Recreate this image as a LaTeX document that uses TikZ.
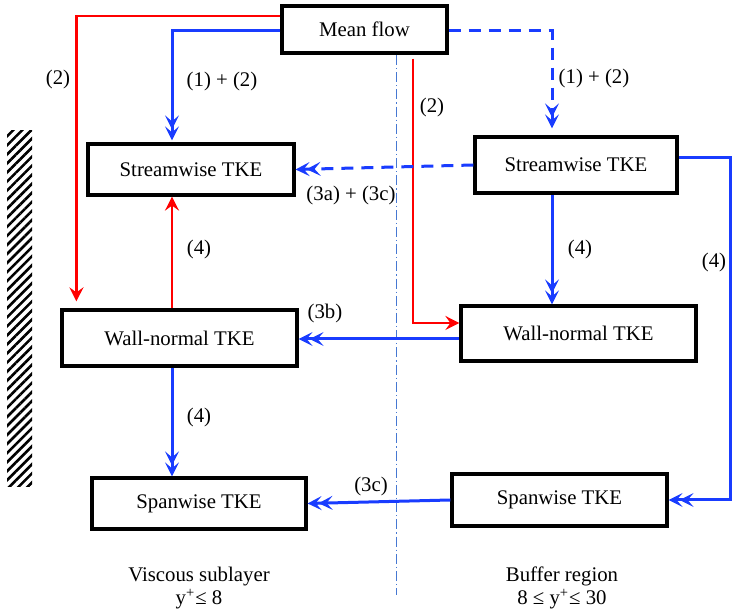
\documentclass[tikz,border=0pt]{standalone}
\usepackage{fontspec}
\setmainfont{Liberation Serif}
\usetikzlibrary{arrows.meta,patterns.meta}

\definecolor{flowblue}{RGB}{25,60,255}
\definecolor{divblue}{RGB}{70,120,210}

\tikzset{
	tke/.style={draw, line width=1.6pt, inner sep=0pt, font=\fontsize{10.4}{12}\selectfont},
	lbl/.style={font=\fontsize{10.4}{12}\selectfont},
	redflow/.style={draw=red, line width=1.3pt, -{Stealth[length=7pt,width=7pt,inset=2.5pt]}},
	blueflow/.style={draw=flowblue, line width=1.5pt, -{Stealth[length=7pt,width=7pt,inset=3pt,sep=-1.5pt]Stealth[length=7pt,width=7pt,inset=3pt]}},
	bluedash/.style={blueflow, dash pattern=on 6pt off 4pt}
}

\begin{document}
\begin{tikzpicture}[x=0.5pt,y=-0.5pt]
	\useasboundingbox (0,0) rectangle (752,614);

	% wall and region divider
	\fill[pattern={Lines[angle=45,distance=3.2pt,line width=1.3pt]}] (7,131) rectangle (32,487);
	\draw[divblue, line width=0.5pt, dash pattern=on 5pt off 1.5pt on 0.6pt off 1.5pt] (396,55) -- (396,595);

	\node[tke, minimum width=82.5pt, minimum height=23.5pt] (mean) at (364.5,29.5) {Mean flow};

	\node[tke, minimum width=103pt, minimum height=25.5pt] (ls) at (191,169.5) {Streamwise TKE};
	\node[tke, minimum width=117.5pt, minimum height=28pt] (lwn) at (179.5,338) {Wall-normal TKE};
	\node[tke, minimum width=107pt, minimum height=25.5pt] (lsp) at (199,503.5) {Spanwise TKE};

	\node[tke, minimum width=101pt, minimum height=28pt] (rs) at (576,165) {Streamwise TKE};
	\node[tke, minimum width=117.5pt, minimum height=27.5pt] (rwn) at (578.5,333.5) {Wall-normal TKE};
	\node[tke, minimum width=107.5pt, minimum height=26pt] (rsp) at (559.5,500) {Spanwise TKE};

	% mean flow production
	\draw[redflow] ([yshift=6.75pt]mean.west) -| ([xshift=8pt,yshift=3.5pt]lwn.north west);
	\draw[blueflow] ([yshift=-0.75pt]mean.west) -| ([xshift=-9.5pt,yshift=1pt]ls.north);
	\draw[bluedash] ([yshift=-0.75pt]mean.east) -| ([xshift=-12pt,yshift=3.5pt]rs.north);
	\draw[redflow] ([xshift=24.25pt,yshift=-2pt]mean.south) |- ([yshift=5.25pt]rwn.west);

	% redistribution
	\draw[bluedash] (rs.west) -- (ls.east);
	\draw[blueflow] ([xshift=-12pt]rs.south) -- ([xshift=-12pt]rs.south |- rwn.north);
	\draw[blueflow] ([yshift=3.5pt]rs.east) -- ++(26pt,0) |- (rsp.east);
	\draw[blueflow] ([yshift=-2.75pt]rwn.west) -- ([yshift=-2.75pt]rwn.west -| lwn.east);
	\draw[redflow] ([xshift=-3.75pt]lwn.north) -- ([xshift=-3.75pt]lwn.north |- ls.south);
	\draw[blueflow] ([xshift=-3.75pt]lwn.south) -- ([xshift=-3.75pt]lwn.south |- lsp.north);
	\draw[blueflow] (rsp.west) -- (lsp.east);

	% labels
	\node[lbl] (l2a) at (58,80) {(2)};
	\node[lbl] (l12a) at (222,82) {(1) + (2)};
	\node[lbl] (l2b) at (432,108) {(2)};
	\node[lbl] (l12b) at (594,79) {(1) + (2)};
	\node[lbl] (l3a) at (351,196) {(3a) + (3c)};
	\node[lbl] (l4a) at (199,250) {(4)};
	\node[lbl] (l4b) at (580,250) {(4)};
	\node[lbl] (l4c) at (714,263) {(4)};
	\node[lbl] (l3b) at (325,314) {(3b)};
	\node[lbl] (l4d) at (199,418) {(4)};
	\node[lbl] (l3c) at (371,487) {(3c)};

	\node[lbl, align=center, font=\fontsize{10.4}{11.5}\selectfont] (visc) at (199,588) {Viscous sublayer\\y\textsuperscript{+}≤ 8};
	\node[lbl, align=center, font=\fontsize{10.4}{11.5}\selectfont] (buff) at (562,588) {Buffer region\\8 ≤ y\textsuperscript{+}≤ 30};
\end{tikzpicture}
\end{document}
